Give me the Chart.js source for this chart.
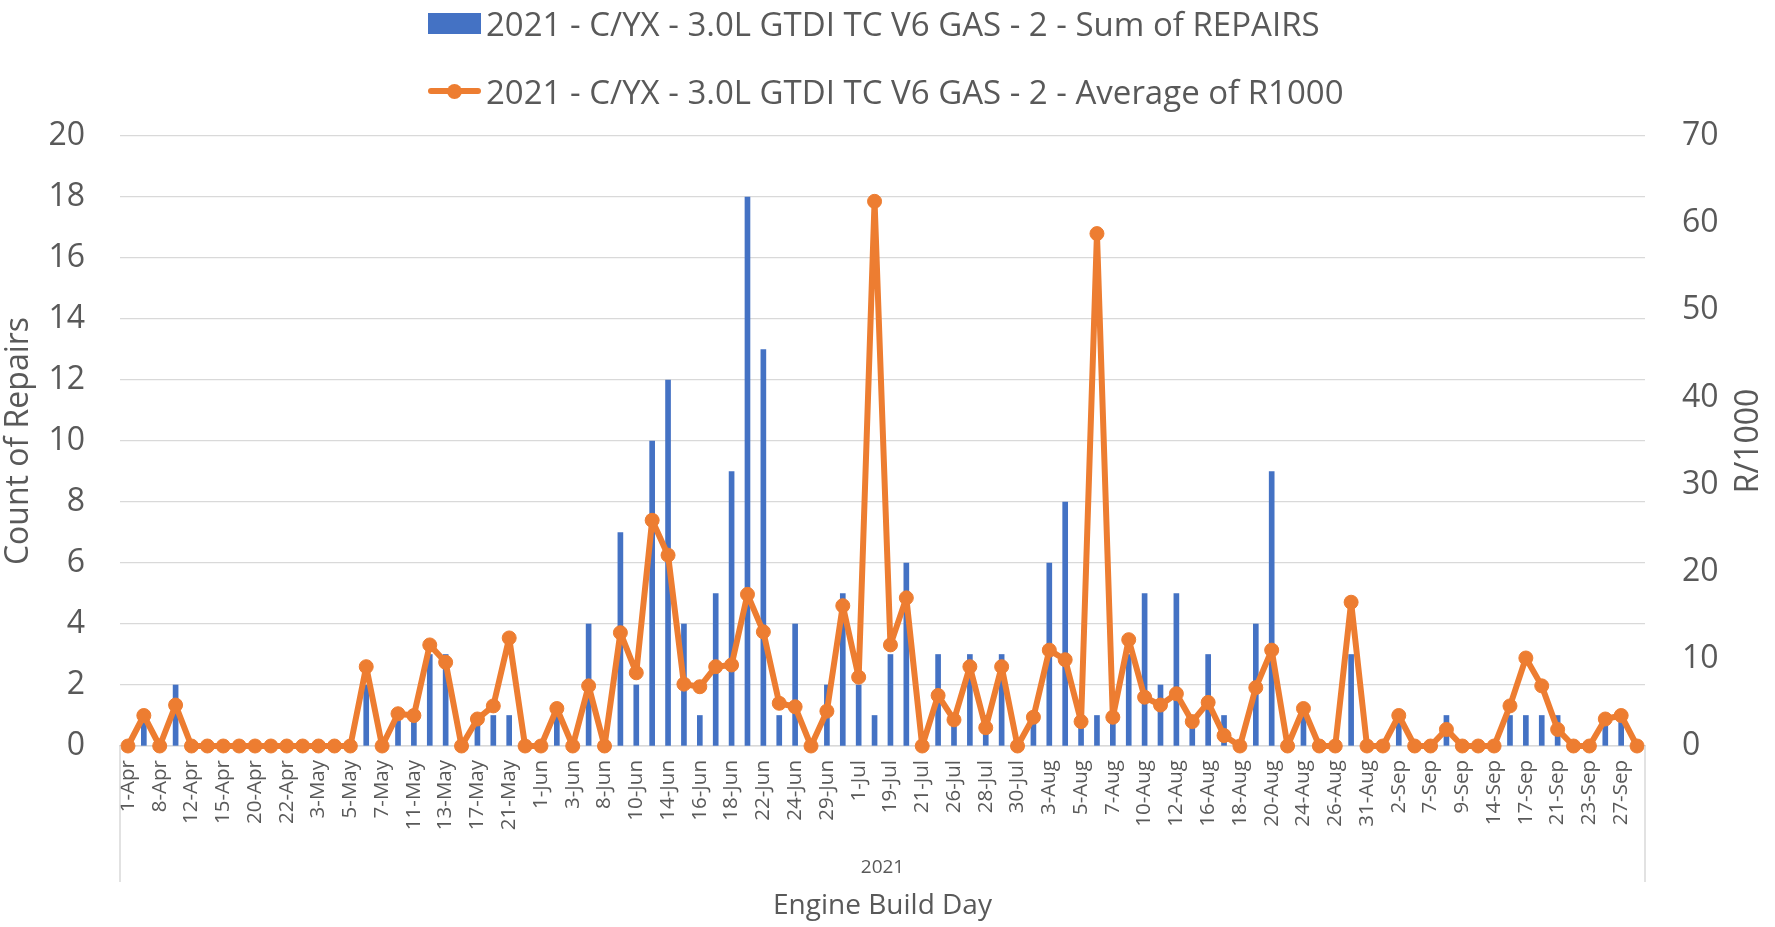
<!DOCTYPE html>
<html>
<head>
<meta charset="utf-8">
<title>Engine Build Day – Repairs and R/1000</title>
<script src="https://cdn.jsdelivr.net/npm/chart.js@4.4.1/dist/chart.umd.min.js"></script>
<style>
  html, body { margin: 0; padding: 0; background: #ffffff; overflow: hidden; }
  #wrap { position: relative; width: 1775px; height: 927px; }
  #chart { display: block; width: 1775px; height: 927px; }
  #legend { position: absolute; left: 428px; top: 0; font-family: "Open Sans", sans-serif; font-size: 33px; color: #595959; }
  .row { position: absolute; left: 0; height: 40px; display: flex; align-items: center; white-space: nowrap; }
  .sw { position: relative; flex: none; width: 53px; height: 40px; margin-right: 5px; }
</style>
</head>
<body>
<div id="wrap">
  <canvas id="chart" width="1775" height="927"></canvas>
  <div id="legend"></div>
</div>
<script>
// Engine build days (every second day is labelled on the axis)
const days = [
  '1-Apr','7-Apr','8-Apr','9-Apr','12-Apr','13-Apr','15-Apr','16-Apr','20-Apr','21-Apr',
  '22-Apr','23-Apr','3-May','4-May','5-May','6-May','7-May','10-May','11-May','12-May',
  '13-May','14-May','17-May','18-May','21-May','27-May','1-Jun','2-Jun','3-Jun','7-Jun',
  '8-Jun','9-Jun','10-Jun','11-Jun','14-Jun','15-Jun','16-Jun','17-Jun','18-Jun','21-Jun',
  '22-Jun','23-Jun','24-Jun','28-Jun','29-Jun','30-Jun','1-Jul','2-Jul','19-Jul','20-Jul',
  '21-Jul','23-Jul','26-Jul','27-Jul','28-Jul','29-Jul','30-Jul','2-Aug','3-Aug','4-Aug',
  '5-Aug','6-Aug','7-Aug','9-Aug','10-Aug','11-Aug','12-Aug','13-Aug','16-Aug','17-Aug',
  '18-Aug','19-Aug','20-Aug','23-Aug','24-Aug','25-Aug','26-Aug','27-Aug','31-Aug','1-Sep',
  '2-Sep','3-Sep','7-Sep','8-Sep','9-Sep','13-Sep','14-Sep','16-Sep','17-Sep','20-Sep',
  '21-Sep','22-Sep','23-Sep','24-Sep','27-Sep','28-Sep'
];

// Sum of repairs per build day
const repairs = [
  0, 1, 0, 2, 0, 0, 0, 0, 0, 0,
  0, 0, 0, 0, 0, 2, 0, 1, 1, 3,
  3, 0, 1, 1, 1, 0, 0, 1, 0, 4,
  0, 7, 2, 10, 12, 4, 1, 5, 9, 18,
  13, 1, 4, 0, 2, 5, 2, 1, 3, 6,
  0, 3, 1, 3, 1, 3, 0, 1, 6, 8,
  1, 1, 1, 3, 5, 2, 5, 1, 3, 1,
  0, 4, 9, 0, 1, 0, 0, 3, 0, 0,
  1, 0, 0, 1, 0, 0, 0, 1, 1, 1,
  1, 0, 0, 1, 1, 0
];

// Average repairs per thousand engines built
const r1000 = [
  0, 3.5, 0, 4.7, 0, 0, 0, 0, 0, 0,
  0, 0, 0, 0, 0, 9.1, 0, 3.7, 3.5, 11.6,
  9.6, 0, 3.1, 4.6, 12.4, 0, 0, 4.3, 0, 6.9,
  0, 13.0, 8.4, 25.9, 21.9, 7.1, 6.8, 9.1, 9.3, 17.4,
  13.1, 4.9, 4.5, 0, 4.0, 16.1, 7.9, 62.5, 11.6, 17.0,
  0, 5.8, 3.0, 9.1, 2.1, 9.1, 0, 3.3, 11.0, 9.9,
  2.8, 58.8, 3.3, 12.2, 5.6, 4.7, 6.0, 2.8, 5.0, 1.2,
  0, 6.7, 11.0, 0, 4.3, 0, 0, 16.5, 0, 0,
  3.5, 0, 0, 1.9, 0, 0, 0, 4.6, 10.1, 6.9,
  1.9, 0, 0, 3.1, 3.5, 0
];

const seriesNames = [
  '2021 - C/YX - 3.0L GTDI TC V6 GAS - 2 - Sum of REPAIRS',
  '2021 - C/YX - 3.0L GTDI TC V6 GAS - 2 - Average of R1000'
];
const yearLabel = '2021';
const countTicks = { min: 0, max: 20, step: 2 };
const rateTicks = { min: 0, max: 70, step: 10 };

const BLUE = '#4472C4';
const ORANGE = '#ED7D31';
const TEXT = '#595959';
const GRID = '#D9D9D9';
const FONT = '"Open Sans", sans-serif';

// Year group label, category group borders and the secondary axis title
const axisExtras = {
  id: 'axisExtras',
  afterDraw(chart) {
    const { ctx, chartArea: a } = chart;
    ctx.save();
    ctx.strokeStyle = GRID;
    ctx.lineWidth = 1.5;
    [a.left, a.right].forEach(x => {
      ctx.beginPath();
      ctx.moveTo(x, a.bottom);
      ctx.lineTo(x, a.bottom + 136);
      ctx.stroke();
    });
    ctx.fillStyle = TEXT;
    ctx.textAlign = 'center';
    ctx.textBaseline = 'middle';
    ctx.font = '19px ' + FONT;
    ctx.fillText(yearLabel, (a.left + a.right) / 2, a.bottom + 122);
    ctx.translate(1749, (a.top + a.bottom) / 2);
    ctx.rotate(-Math.PI / 2);
    ctx.font = '32px ' + FONT;
    ctx.fillText('R/1000', 0, 0);
    ctx.restore();
  }
};

const chart = new Chart(document.getElementById('chart'), {
  data: {
    labels: days,
    datasets: [
      {
        type: 'line',
        label: seriesNames[1],
        data: r1000,
        yAxisID: 'y1',
        borderColor: ORANGE,
        backgroundColor: ORANGE,
        borderWidth: 6,
        borderJoinStyle: 'round',
        borderCapStyle: 'round',
        pointRadius: 7,
        pointBorderWidth: 1,
        pointBackgroundColor: ORANGE,
        pointBorderColor: ORANGE,
        tension: 0,
        clip: false,
        order: 0
      },
      {
        type: 'bar',
        label: seriesNames[0],
        data: repairs,
        yAxisID: 'y',
        backgroundColor: BLUE,
        barThickness: 5,
        order: 1
      }
    ]
  },
  options: {
    responsive: false,
    maintainAspectRatio: false,
    animation: false,
    devicePixelRatio: 1,
    layout: { padding: { top: 136, left: 0, right: 0, bottom: 0 } },
    plugins: {
      legend: { display: false },
      tooltip: { enabled: false }
    },
    scales: {
      x: {
        type: 'category',
        offset: true,
        grid: { display: false, drawTicks: false },
        border: { display: true, color: GRID, width: 1.5 },
        ticks: {
          autoSkip: false,
          maxRotation: 90,
          minRotation: 90,
          padding: 14,
          color: TEXT,
          font: { family: FONT, size: 20.5 },
          callback: (v, i) => (i % 2 === 0 ? days[i] : '')
        },
        title: {
          display: true,
          text: 'Engine Build Day',
          color: TEXT,
          font: { family: FONT, size: 28 },
          padding: { top: 0, bottom: 4 }
        },
        afterFit: s => { s.height = 181; }
      },
      y: {
        position: 'left',
        min: countTicks.min,
        max: countTicks.max,
        grid: { color: GRID, lineWidth: 1.3, drawTicks: false },
        border: { display: false },
        ticks: {
          stepSize: countTicks.step,
          padding: 35,
          color: TEXT,
          font: { family: FONT, size: 32 }
        },
        title: {
          display: true,
          text: 'Count of Repairs',
          color: TEXT,
          font: { family: FONT, size: 32 },
          padding: { top: 0, bottom: 0 }
        },
        afterFit: s => { s.width = 120; }
      },
      y1: {
        position: 'right',
        min: rateTicks.min,
        max: rateTicks.max,
        grid: { drawOnChartArea: false, drawTicks: false },
        border: { display: false },
        ticks: {
          stepSize: rateTicks.step,
          padding: 37,
          color: TEXT,
          font: { family: FONT, size: 32 }
        },
        afterFit: s => { s.width = 130; }
      }
    }
  },
  plugins: [axisExtras]
});

// Legend built from the dataset styles
const legend = document.getElementById('legend');
const rows = [
  { name: seriesNames[0], top: 3, kind: 'bar' },
  { name: seriesNames[1], top: 71, kind: 'line' }
];
rows.forEach(r => {
  const row = document.createElement('div');
  row.className = 'row';
  row.style.top = r.top + 'px';
  const sw = document.createElement('div');
  sw.className = 'sw';
  if (r.kind === 'bar') {
    sw.innerHTML = '<div style="position:absolute;left:0;top:9.5px;width:53px;height:21px;background:' + BLUE + '"></div>';
  } else {
    sw.innerHTML = '<div style="position:absolute;left:0;top:17px;width:53px;height:6px;background:' + ORANGE + ';border-radius:3px"></div>' +
      '<div style="position:absolute;left:19px;top:12.5px;width:15px;height:15px;border-radius:50%;background:' + ORANGE + '"></div>';
  }
  const label = document.createElement('span');
  label.textContent = r.name;
  row.appendChild(sw);
  row.appendChild(label);
  legend.appendChild(row);
});
</script>
</body>
</html>
